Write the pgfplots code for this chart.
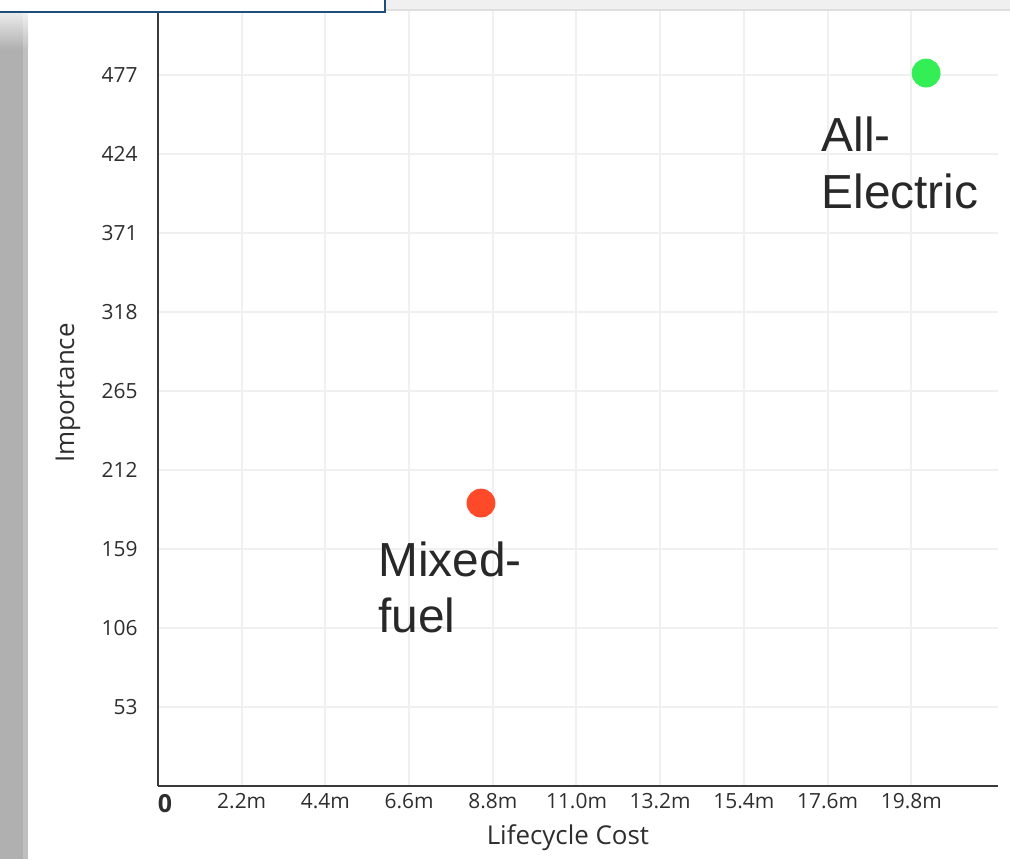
\documentclass[border=0pt]{standalone}
\usepackage{pgfplots}
\pgfplotsset{compat=1.18}
\usepackage{fontspec}
\setmainfont{Open Sans}
\newfontfamily\labelfont{Liberation Sans}
\definecolor{axisgray}{HTML}{3A3A3A}
\definecolor{ticktext}{HTML}{2E2E2E}
\definecolor{labeltext}{HTML}{282828}
\definecolor{gridc}{HTML}{F0F0F0}
\definecolor{ptgreen}{HTML}{33EE55}
\definecolor{ptred}{HTML}{FF4A2A}
\definecolor{boxblue}{HTML}{1F4E79}
\definecolor{topbar}{HTML}{F0F0F0}
\begin{document}
\begin{tikzpicture}[x=1bp,y=1bp]
\useasboundingbox (0,0) rectangle (505,429.5);
\begin{axis}[
  at={(79bp,36.5bp)}, anchor=south west,
  scale only axis, width=420bp, height=393bp,
  xmin=0, xmax=22.08, ymin=0, ymax=527,
  axis lines=left,
  axis line style={-, draw=axisgray, line width=1bp},
  xtick={2.2,4.4,6.6,8.8,11,13.2,15.4,17.6,19.8},
  xticklabels={2.2m,4.4m,6.6m,8.8m,11.0m,13.2m,15.4m,17.6m,19.8m},
  ytick={53,106,159,212,265,318,371,424,477},
  yticklabels={53,106,159,212,265,318,371,424,477},
  major tick length=0pt,
  grid=major,
  major grid style={draw=gridc, line width=1bp},
  tick label style={font=\fontsize{10.5}{12}\selectfont, text=ticktext},
  xticklabel style={anchor=north, inner sep=0pt, yshift=-3.5bp},
  yticklabel style={anchor=east, inner sep=0pt, xshift=-10bp},
  extra x ticks={0},
  extra x tick labels={0},
  extra x tick style={grid=none, xticklabel style={xshift=3.5bp, yshift=-0.5bp, font=\fontsize{12.5}{14}\selectfont\bfseries}},
  xlabel={Lifecycle Cost},
  ylabel={Importance},
  label style={font=\fontsize{13}{15}\selectfont, text=ticktext},
  xlabel style={at={(axis description cs:0.488,0)}, anchor=center, yshift=-26bp},
  ylabel style={at={([xshift=-45bp]axis description cs:0,0.5)}, anchor=center},
]
\addplot[only marks, mark=*, mark size=7bp, color=ptgreen, mark options={draw=none, fill=ptgreen}] coordinates {(20.19,478)};
\addplot[only marks, mark=*, mark size=7bp, color=ptred, mark options={draw=none, fill=ptred}] coordinates {(8.49,189.7)};
\node[anchor=north west, inner sep=0pt, font=\labelfont\fontsize{24}{28.5}\selectfont, text=labeltext, align=left] at (axis cs:17.43,448.6) {All-\\Electric};
\node[anchor=north west, inner sep=0pt, font=\labelfont\fontsize{24}{28.5}\selectfont, text=labeltext, align=left] at (axis cs:5.78,164.3) {Mixed-\\fuel};
\end{axis}
% screenshot frame decorations
\fill[gray!62] (0,0) rectangle (11.5,405);
\fill[gray!50] (11.5,0) rectangle (14,405);
\shade[top color=gray!15, bottom color=gray!62] (0,405) rectangle (11.5,423.5);
\shade[top color=gray!10, bottom color=gray!50] (11.5,405) rectangle (14,423.5);
\fill[topbar] (192.5,424.5) rectangle (505,429.5);
\draw[gray!25, line width=0.6bp] (192.5,424.5) -- (505,424.5);
\draw[boxblue, fill=white, line width=1.2bp] (-2,431) rectangle (192.5,423.5);
\end{tikzpicture}
\end{document}
